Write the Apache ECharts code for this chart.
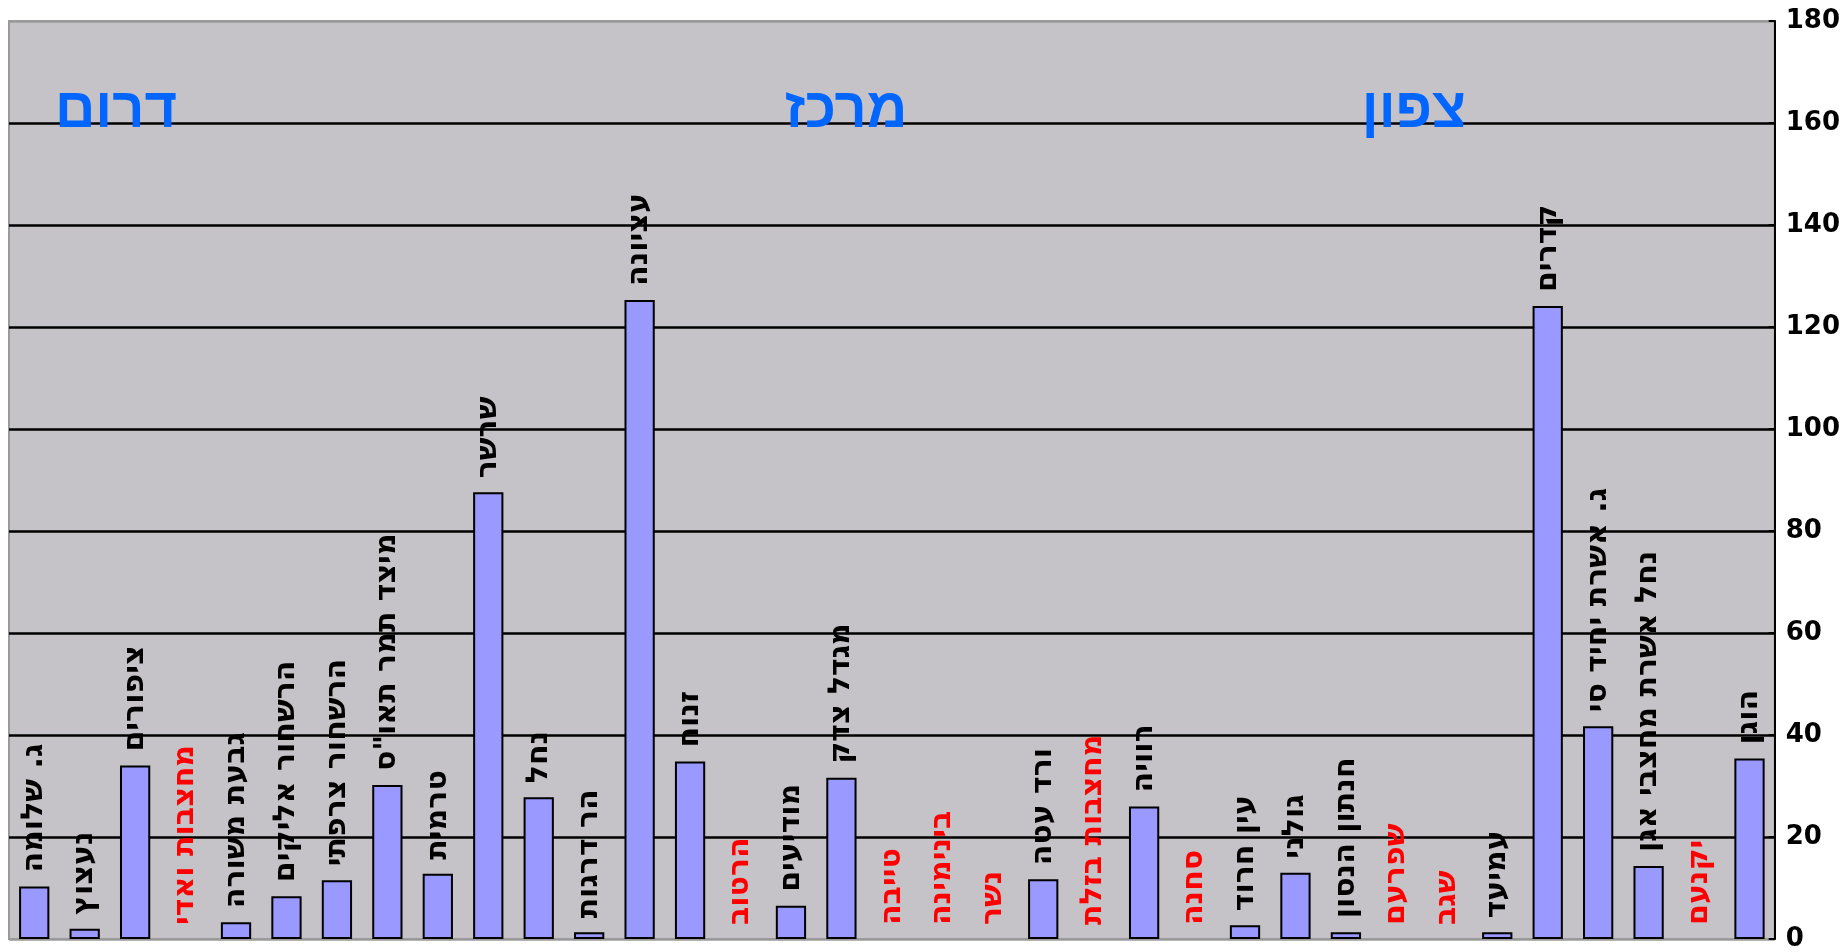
<!DOCTYPE html>
<html>
<head>
<meta charset="utf-8">
<script src="https://cdn.jsdelivr.net/npm/echarts@6/dist/echarts.min.js"></script>
<style>
html,body{margin:0;padding:0;background:#ffffff;}
#chart{width:1843px;height:952px;}
</style>
</head>
<body>
<div id="chart"></div>
<script>
const categories = [
  "ג. שלומה", "נעצוץ", "ציפורים", "מחצבות ואדי", "גבעת משורה", "הרשחור אליקים",
  "הרשחור צרפתי", "מיצד תמר תאו\"ס", "טרמית", "שרשר", "נחל", "הר דרגות",
  "עציונה", "זנוח", "הרטוב", "מודיעים", "מגדל צדק", "טייבה", "בינימינה", "נשר",
  "ורד עטה", "מחצבות בזלת", "רוויה", "סחנה", "עין חרוד", "גולני", "חנתון הנסון",
  "שפרעם", "שגב", "עמיעד", "קדרים", "ג. אשרת יחיד סי", "נחל אשרת מחצבי אגן",
  "יקנעם", "הוגן"
];
const values = [
  10.3, 2, 34, 0, 3.3, 8.4, 11.5, 30.2, 12.8, 87.6, 27.8, 1.3,
  125.3, 34.8, 0, 6.5, 31.6, 0, 0, 0, 11.7, 0, 26, 0, 2.7, 13, 1.3,
  0, 0, 1.3, 124.1, 41.7, 14.3, 0, 35.4
];
const regionLabels = ["דרום", "מרכז", "צפון"];
const yTicks = { min: 0, max: 180, interval: 20 };

const chart = echarts.init(document.getElementById('chart'));
const barData = values.map(v => ({
  value: v,
  itemStyle: v === 0 ? { borderWidth: 0, color: 'rgba(0,0,0,0)' } : {},
  label: { color: v === 0 ? '#ff0000' : '#000000' }
}));
const gridLineColors = [];
for (let v = yTicks.min; v <= yTicks.max; v += yTicks.interval) {
  gridLineColors.push((v === yTicks.min || v === yTicks.max) ? '#9a9a9a' : '#000000');
}
const regionX = [116, 846, 1414];

chart.setOption({
  animation: false,
  backgroundColor: '#ffffff',
  grid: {
    left: 9, right: 67, top: 21, bottom: 12,
    show: true, backgroundColor: '#c5c3c7',
    borderColor: '#9a9a9a', borderWidth: 2
  },
  xAxis: {
    type: 'category',
    data: categories,
    axisLine: { show: false },
    axisTick: { show: false },
    axisLabel: { show: false },
    splitLine: { show: false }
  },
  yAxis: {
    type: 'value',
    position: 'right',
    min: yTicks.min, max: yTicks.max, interval: yTicks.interval,
    axisLine: { show: true, lineStyle: { color: '#000', width: 2 } },
    axisTick: { show: true, inside: true, length: 6, lineStyle: { color: '#000', width: 2 } },
    axisLabel: {
      margin: 11, color: '#000',
      fontFamily: 'DejaVu Sans', fontWeight: 'bold', fontSize: 26
    },
    splitLine: { show: true, lineStyle: { color: gridLineColors, width: 2.5 } }
  },
  series: [{
    type: 'bar',
    data: barData,
    barWidth: '60%',
    itemStyle: { color: '#9999ff', borderColor: '#000', borderWidth: 2 },
    label: {
      show: true,
      position: 'top',
      distance: 14,
      rotate: 90,
      align: 'left',
      verticalAlign: 'middle',
      formatter: '{b}',
      fontFamily: 'DejaVu Sans',
      fontWeight: 'bold',
      fontSize: 30
    }
  }],
  graphic: regionLabels.map((t, i) => ({
    type: 'text',
    x: regionX[i], y: 112,
    style: {
      text: t, fill: '#0066ff',
      font: 'bold 56px "Liberation Sans", "DejaVu Sans", sans-serif',
      textAlign: 'center', textVerticalAlign: 'middle'
    },
    z: 10
  }))
});
</script>
</body>
</html>
